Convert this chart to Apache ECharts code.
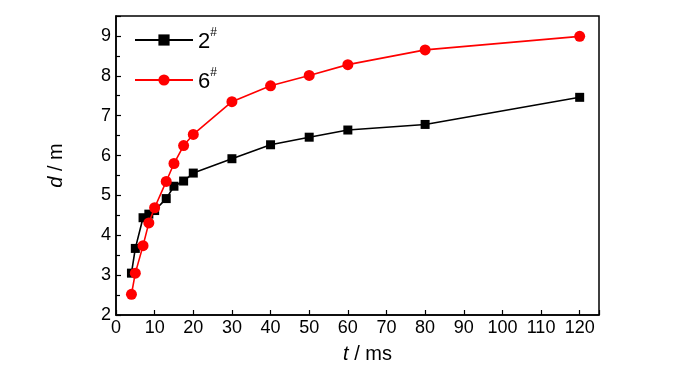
<!DOCTYPE html>
<html>
<head>
<meta charset="utf-8">
<script src="https://cdn.jsdelivr.net/npm/echarts@6/dist/echarts.min.js"></script>
<style>html,body{margin:0;padding:0;background:#fff}#c{width:700px;height:374px}</style>
</head>
<body>
<div id="c"></div>
<script>
var tValues = [4, 5, 7, 8.5, 10, 13, 15, 17.5, 20, 30, 40, 50, 60, 80, 120];
var d2 = [3.05, 3.67, 4.44, 4.53, 4.62, 4.92, 5.23, 5.36, 5.56, 5.92, 6.27, 6.46, 6.64, 6.78, 7.46];
var d6 = [2.52, 3.05, 3.74, 4.31, 4.69, 5.35, 5.80, 6.25, 6.53, 7.35, 7.75, 8.01, 8.28, 8.65, 8.99];
var seriesNames = ['2', '6'];

function pairs(xs, ys) { return xs.map(function (x, i) { return [x, ys[i]]; }); }

var font = '"Liberation Sans", Arial, sans-serif';
var chart = echarts.init(document.getElementById('c'), null, {renderer: 'canvas'});
chart.setOption({
  animation: false,
  backgroundColor: '#fff',
  grid: {left: 116, right: 101, top: 16, bottom: 59, show: true, borderColor: '#000', borderWidth: 1.5, backgroundColor: 'transparent'},
  legend: {
    left: 129, top: 22, orient: 'vertical', itemGap: 14, itemWidth: 58, itemHeight: 14,
    data: seriesNames,
    formatter: function (n) { return '{a|' + n + '}{s|#}'; },
    textStyle: {
      fontFamily: font, color: '#000',
      rich: {
        a: {fontSize: 22, fontFamily: font, color: '#000', verticalAlign: 'bottom'},
        s: {fontSize: 12, fontFamily: font, color: '#000', verticalAlign: 'top', padding: [0, 0, 14, 0]}
      }
    }
  },
  xAxis: {
    type: 'value', min: 0, max: 125, interval: 10,
    name: '{i|t} / ms', nameLocation: 'middle', nameGap: 29,
    nameTextStyle: {fontFamily: font, fontSize: 20, color: '#000', padding: [0, 0, 0, 20],
      rich: {i: {fontStyle: 'italic', fontFamily: font, fontSize: 20, color: '#000'}}},
    axisLine: {show: true, lineStyle: {color: '#000', width: 1.5}},
    axisTick: {show: true, inside: true, length: 5, lineStyle: {color: '#000', width: 1.2}},
    axisLabel: {fontFamily: font, fontSize: 18, color: '#000', margin: 4,
      formatter: function (v) { return v > 120 ? '' : v; }},
    splitLine: {show: false}
  },
  yAxis: {
    type: 'value', min: 2, max: 9.5, interval: 1,
    name: '{i|d} / m', nameLocation: 'middle', nameGap: 50, nameRotate: 90,
    nameTextStyle: {fontFamily: font, fontSize: 20, color: '#000',
      rich: {i: {fontStyle: 'italic', fontFamily: font, fontSize: 20, color: '#000'}}},
    axisLine: {show: true, lineStyle: {color: '#000', width: 1.5}},
    axisTick: {show: true, inside: true, length: 5, lineStyle: {color: '#000', width: 1.2}},
    minorTick: {show: true, splitNumber: 2, length: 4, lineStyle: {color: '#000', width: 1.2}},
    axisLabel: {fontFamily: font, fontSize: 18, color: '#000', margin: 5,
      formatter: function (v) { return v > 9 ? '' : v; }},
    splitLine: {show: false}
  },
  series: [
    {name: seriesNames[0], type: 'line', data: pairs(tValues, d2), symbol: 'rect', symbolSize: 9,
      lineStyle: {color: '#000', width: 1.6}, itemStyle: {color: '#000'}, z: 2},
    {name: seriesNames[1], type: 'line', data: pairs(tValues, d6), symbol: 'circle', symbolSize: 11,
      lineStyle: {color: '#ff0000', width: 1.6}, itemStyle: {color: '#ff0000'}, z: 3}
  ]
});
</script>
</body>
</html>
